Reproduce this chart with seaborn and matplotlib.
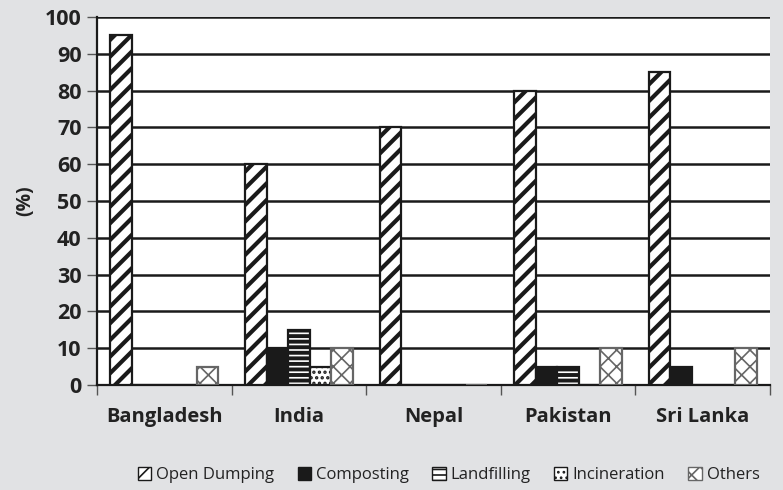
import matplotlib
matplotlib.use("Agg")
import matplotlib.pyplot as plt
import seaborn as sns
import pandas as pd
from matplotlib.patches import Patch
from matplotlib.ticker import FixedLocator

# data
countries = ["Bangladesh", "India", "Nepal", "Pakistan", "Sri Lanka"]
methods = ["Open Dumping", "Composting", "Landfilling", "Incineration", "Others"]
open_dumping = [95, 60, 70, 80, 85]
composting = [0, 10, 0, 5, 5]
landfilling = [0, 15, 0, 5, 0]
incineration = [0, 5, 0, 0, 0]
others = [5, 10, 0, 10, 10]
y_ticks = list(range(0, 101, 10))

rows = []
for m, vals in zip(methods, [open_dumping, composting, landfilling, incineration, others]):
    for c, v in zip(countries, vals):
        rows.append({"country": c, "method": m, "value": v})
df = pd.DataFrame(rows)

sns.set_style("white")
plt.rcParams["font.family"] = ["Open Sans", "DejaVu Sans"]
plt.rcParams["hatch.linewidth"] = 2.4

bg = "#e1e2e4"
styles = {
    "Open Dumping": dict(face="white", edge="#1a1a1a", hatch="//", hlw=3.0),
    "Composting": dict(face="#1a1a1a", edge="#1a1a1a", hatch=None, hlw=1.0),
    "Landfilling": dict(face="white", edge="#1a1a1a", hatch="---", hlw=2.8),
    "Incineration": dict(face="white", edge="#1a1a1a", hatch="...", hlw=1.6),
    "Others": dict(face="white", edge="#666666", hatch="xx", hlw=1.2),
}

fig = plt.figure(figsize=(7.83, 4.90), dpi=100, facecolor=bg)
ax = fig.add_axes([97 / 783, 1 - 385 / 490, (770 - 97) / 783, (385 - 17) / 490])
ax.set_facecolor("white")

sns.barplot(data=df, x="country", y="value", hue="method", hue_order=methods,
            order=countries, width=0.8, ax=ax, legend=False, zorder=3)

for cont, m in zip(ax.containers, methods):
    st = styles[m]
    for bar in cont:
        bar.set_facecolor(st["face"])
        bar.set_edgecolor(st["edge"])
        bar.set_linewidth(1.6)
        if st["hatch"]:
            bar.set_hatch(st["hatch"])
            if hasattr(bar, "set_hatch_linewidth"):
                bar.set_hatch_linewidth(st["hlw"])

ax.set_ylim(0, 100)
ax.set_xlim(-0.5, 4.5)
ax.set_yticks(y_ticks)
for y in y_ticks[1:]:
    ax.axhline(y, color="#1a1a1a", lw=1.8, zorder=1)

for s in ["right", "top"]:
    ax.spines[s].set_visible(False)
ax.spines["left"].set_color("#1a1a1a")
ax.spines["left"].set_linewidth(1.6)
ax.spines["bottom"].set_color("#1a1a1a")
ax.spines["bottom"].set_linewidth(1.6)

ax.tick_params(axis="y", direction="out", length=7, width=1, color="#555555",
               labelsize=15.5, pad=4, left=True)
ax.tick_params(axis="x", which="major", length=0, labelsize=14.5, pad=16)
ax.xaxis.set_minor_locator(FixedLocator([-0.5, 0.5, 1.5, 2.5, 3.5, 4.5]))
ax.tick_params(axis="x", which="minor", direction="out", length=7, width=1,
               color="#555555", bottom=True)
for lab in ax.get_xticklabels() + ax.get_yticklabels():
    lab.set_fontweight("bold")
    lab.set_color("#222222")

ax.set_xlabel("")
ax.set_ylabel("(%)", fontsize=14, fontweight="bold", color="#222222", labelpad=7)

handles = []
for m in methods:
    p = Patch(facecolor=styles[m]["face"], edgecolor=styles[m]["edge"],
              hatch=styles[m]["hatch"], label=m)
    handles.append(p)
leg = fig.legend(handles=handles, loc="center", bbox_to_anchor=(0.573, 0.03), ncol=5,
                 frameon=False, fontsize=12, handlelength=0.8, handleheight=0.8,
                 handletextpad=0.3, columnspacing=1.4, labelcolor="#222222")
for h in leg.get_patches():
    if hasattr(h, "set_hatch_linewidth"):
        h.set_hatch_linewidth(1.2)

fig.savefig("out.png", dpi=100, facecolor=bg)
